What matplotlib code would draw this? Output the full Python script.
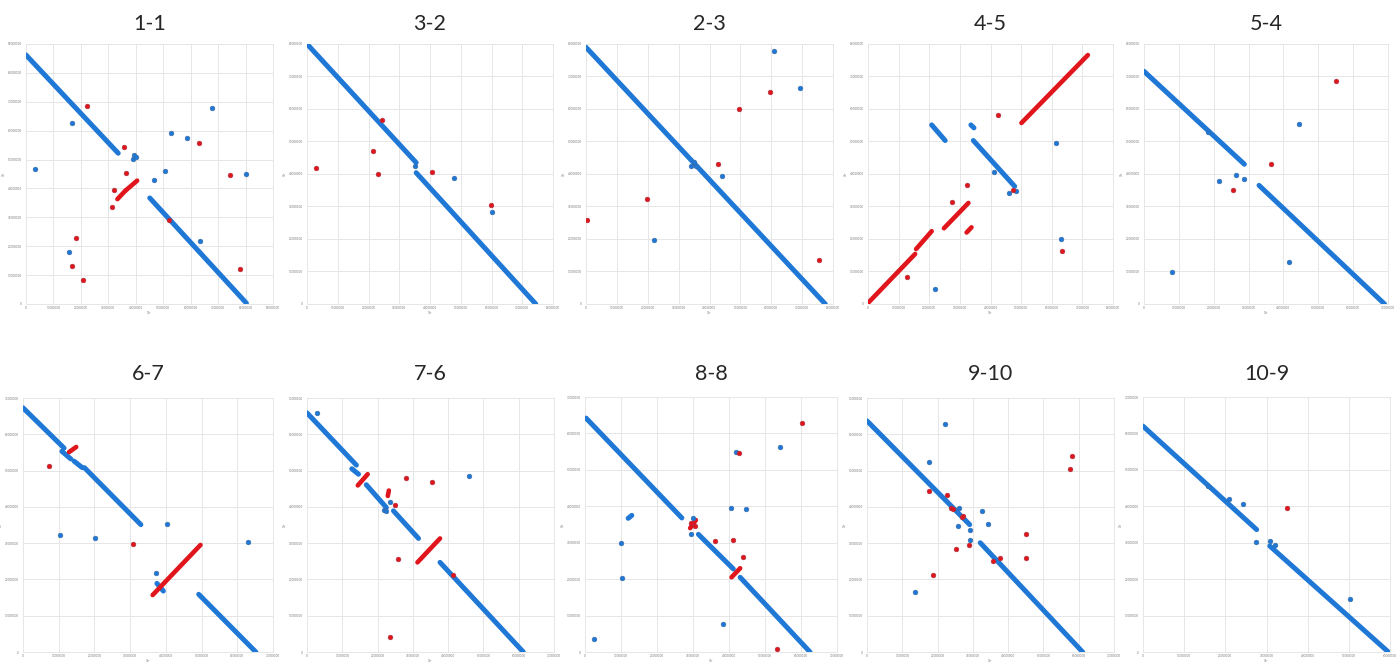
import matplotlib
matplotlib.use("Agg")
import matplotlib.pyplot as plt
from matplotlib.ticker import FixedLocator, FuncFormatter

# ---------------- data (units of 10 Mb) ----------------
titles = ["1-1", "3-2", "2-3", "4-5", "5-4", "6-7", "7-6", "8-8", "9-10", "10-9"]
x_max = [9, 8, 8, 8, 7, 7, 7, 7, 7, 6]
y_max = [9, 8, 8, 8, 8, 7, 7, 7, 7, 7]

# panel 1-1
blue_seg_1 = [(0.0, 8.62, 3.36, 5.22), (4.51, 3.67, 8.03, 0.03)]
red_seg_1 = [(3.33, 3.63, 3.62, 3.92), (3.62, 3.92, 4.05, 4.27)]
blue_x_1 = [1.66, 0.32, 3.9, 3.95, 4.0, 4.66, 5.08, 5.3, 5.85, 6.78, 8.03, 6.33, 1.58]
blue_y_1 = [6.26, 4.67, 5.02, 5.15, 5.08, 4.29, 4.61, 5.92, 5.73, 6.78, 4.51, 2.19, 1.79]
red_x_1 = [2.23, 3.57, 3.64, 3.22, 3.13, 6.3, 7.45, 1.82, 1.66, 2.09, 7.79, 5.2]
red_y_1 = [6.85, 5.44, 4.54, 3.94, 3.37, 5.59, 4.48, 2.27, 1.33, 0.83, 1.21, 2.92]

# panel 3-2
blue_seg_2 = [(0.0, 8.0, 3.55, 4.35), (3.55, 4.04, 7.44, 0.0)]
red_seg_2 = []
blue_x_2 = [3.51, 4.78, 6.03]
blue_y_2 = [4.25, 3.89, 2.83]
red_x_2 = [0.3, 2.16, 2.31, 2.45, 4.05, 5.98]
red_y_2 = [4.17, 4.71, 3.99, 5.66, 4.07, 3.04]

# panel 2-3
blue_seg_3 = [(0.0, 7.9, 7.75, 0.0)]
red_seg_3 = []
blue_x_3 = [3.4, 3.5, 3.55, 2.2, 4.42, 6.09, 6.92]
blue_y_3 = [4.25, 4.38, 4.25, 1.96, 3.94, 7.79, 6.66]
red_x_3 = [0.04, 1.96, 4.28, 4.95, 5.95, 7.55]
red_y_3 = [2.58, 3.22, 4.32, 6.0, 6.53, 1.34]

# panel 4-5
blue_seg_4 = [(2.08, 5.51, 2.52, 5.03), (3.36, 5.51, 3.46, 5.42), (3.44, 5.03, 4.79, 3.62)]
red_seg_4 = [(0.0, 0.03, 1.54, 1.54), (1.57, 1.69, 2.08, 2.24), (2.48, 2.33, 3.28, 3.11),
             (3.22, 2.2, 3.38, 2.36), (5.01, 5.57, 7.18, 7.66)]
blue_x_4 = [4.12, 4.6, 4.82, 6.15, 6.31, 2.19]
blue_y_4 = [4.05, 3.41, 3.47, 4.95, 2.0, 0.46]
red_x_4 = [4.26, 3.22, 2.75, 1.27, 6.33, 4.74]
red_y_4 = [5.83, 3.67, 3.13, 0.84, 1.62, 3.51]

# panel 5-4
blue_seg_5 = [(0.0, 7.16, 2.88, 4.3), (3.3, 3.65, 6.9, 0.0)]
red_seg_5 = []
blue_x_5 = [2.14, 2.64, 2.86, 4.45, 4.16, 0.81, 1.83]
blue_y_5 = [3.78, 3.97, 3.84, 5.55, 1.3, 0.98, 5.3]
red_x_5 = [2.54, 3.64, 5.5]
red_y_5 = [3.51, 4.3, 6.87]

# panel 6-7
blue_seg_6 = [(0.0, 6.73, 1.15, 5.62), (1.09, 5.53, 1.34, 5.32), (1.43, 5.26, 1.66, 5.08),
              (1.72, 5.08, 3.3, 3.51), (3.75, 1.89, 3.93, 1.68), (4.92, 1.59, 6.52, 0.0)]
red_seg_6 = [(1.29, 5.51, 1.49, 5.65), (3.63, 1.57, 4.97, 2.95)]
blue_x_6 = [1.04, 2.01, 4.02, 3.72, 6.3]
blue_y_6 = [3.23, 3.14, 3.52, 2.18, 3.04]
red_x_6 = [0.74, 3.07]
red_y_6 = [5.13, 2.97]

# panel 7-6
blue_seg_7 = [(0.0, 6.59, 1.4, 5.15), (1.27, 5.05, 1.46, 4.9), (1.68, 4.61, 2.25, 3.98),
              (2.45, 3.89, 3.16, 3.13), (3.77, 2.47, 6.13, 0.0)]
red_seg_7 = [(1.44, 4.59, 1.72, 4.9), (3.13, 2.47, 3.77, 3.13), (2.29, 4.3, 2.32, 4.45)]
blue_x_7 = [0.28, 4.6, 2.18, 2.24, 2.34]
blue_y_7 = [6.58, 4.84, 3.9, 3.88, 4.14]
red_x_7 = [2.81, 3.54, 2.57, 4.13, 2.36, 2.5]
red_y_7 = [4.79, 4.68, 2.57, 2.12, 0.41, 4.05]

# panel 8-8
blue_seg_8 = [(0.03, 6.42, 2.69, 3.68), (3.15, 3.23, 4.12, 2.28), (4.31, 2.05, 6.25, 0.0),
              (1.2, 3.67, 1.3, 3.75)]
red_seg_8 = [(2.92, 3.4, 3.08, 3.62), (4.07, 2.05, 4.31, 2.3)]
blue_x_8 = [0.99, 1.02, 0.25, 3.82, 4.05, 4.46, 5.42, 4.19, 2.99, 2.94]
blue_y_8 = [2.98, 2.04, 0.36, 0.76, 3.95, 3.93, 5.64, 5.5, 3.69, 3.24]
red_x_8 = [4.28, 6.04, 3.62, 4.12, 4.4, 5.34, 2.95, 3.05]
red_y_8 = [5.45, 6.29, 3.05, 3.07, 2.62, 0.09, 3.55, 3.45]

# panel 9-10
blue_seg_9 = [(0.0, 6.37, 2.91, 3.51), (3.21, 3.01, 6.11, 0.0)]
red_seg_9 = []
blue_x_9 = [2.22, 1.77, 2.62, 2.59, 2.91, 2.91, 3.25, 3.44, 1.35]
blue_y_9 = [6.28, 5.24, 3.98, 3.46, 3.35, 3.08, 3.89, 3.53, 1.64]
red_x_9 = [1.75, 2.28, 2.39, 2.45, 2.69, 2.72, 2.52, 2.88, 3.58, 3.77, 4.5, 4.5, 1.86, 5.74, 5.8]
red_y_9 = [4.45, 4.32, 3.96, 3.93, 3.71, 3.74, 2.83, 2.96, 2.51, 2.59, 3.26, 2.59, 2.11, 5.04, 5.4]

# panel 10-9
blue_seg_10 = [(0.0, 6.2, 2.76, 3.36), (3.08, 2.91, 5.96, 0.0)]
red_seg_10 = []
blue_x_10 = [1.58, 2.09, 2.43, 2.74, 3.08, 3.2, 5.03]
blue_y_10 = [4.57, 4.21, 4.06, 3.03, 3.04, 2.93, 1.45]
red_x_10 = [3.5]
red_y_10 = [3.96]

blue_segs = [blue_seg_1, blue_seg_2, blue_seg_3, blue_seg_4, blue_seg_5,
             blue_seg_6, blue_seg_7, blue_seg_8, blue_seg_9, blue_seg_10]
red_segs = [red_seg_1, red_seg_2, red_seg_3, red_seg_4, red_seg_5,
            red_seg_6, red_seg_7, red_seg_8, red_seg_9, red_seg_10]
blue_xs = [blue_x_1, blue_x_2, blue_x_3, blue_x_4, blue_x_5, blue_x_6, blue_x_7, blue_x_8, blue_x_9, blue_x_10]
blue_ys = [blue_y_1, blue_y_2, blue_y_3, blue_y_4, blue_y_5, blue_y_6, blue_y_7, blue_y_8, blue_y_9, blue_y_10]
red_xs = [red_x_1, red_x_2, red_x_3, red_x_4, red_x_5, red_x_6, red_x_7, red_x_8, red_x_9, red_x_10]
red_ys = [red_y_1, red_y_2, red_y_3, red_y_4, red_y_5, red_y_6, red_y_7, red_y_8, red_y_9, red_y_10]

# ---------------- layout (pixels) ----------------
W, H = 1400, 662
boxes = [(26, 44, 273, 304), (307, 44, 553, 304), (586, 44, 833, 304), (868, 44, 1113, 304), (1144, 44, 1388, 304),
         (23, 398, 273, 652), (307, 398, 554, 652), (585, 397, 837, 652), (867, 398, 1114, 652), (1143, 397, 1390, 652)]
title_y = [24, 374]

BLUE = "#1f78d6"
RED = "#e0161c"
GRID = "#e6e6e6"

plt.rcParams['font.family'] = ['Lato', 'DejaVu Sans']
fig = plt.figure(figsize=(W / 100, H / 100), dpi=100)
fig.patch.set_facecolor("white")

fmt = FuncFormatter(lambda v, p: f"{int(round(v * 10000000))}")

for i in range(10):
    x0, y0, x1, y1 = boxes[i]
    ax = fig.add_axes([x0 / W, 1 - y1 / H, (x1 - x0) / W, (y1 - y0) / H])
    ax.set_xlim(0, x_max[i])
    ax.set_ylim(0, y_max[i])
    ax.xaxis.set_major_locator(FixedLocator(range(0, x_max[i] + 1)))
    ax.yaxis.set_major_locator(FixedLocator(range(0, y_max[i] + 1)))
    ax.xaxis.set_major_formatter(fmt)
    ax.yaxis.set_major_formatter(fmt)
    ax.tick_params(axis="y", length=0, labelsize=2.2, labelcolor="#777777", pad=3)
    ax.tick_params(axis="x", length=0, labelsize=2.2, labelcolor="#777777", pad=1.5)
    ax.grid(True, color=GRID, linewidth=0.7)
    ax.set_axisbelow(True)
    for s in ax.spines.values():
        s.set_color(GRID)
        s.set_linewidth(0.7)
    ax.set_xlabel("Chr", fontsize=2, color="#888888", labelpad=0.5)
    ax.set_ylabel("Chr", fontsize=2, color="#888888", labelpad=1)

    for (a, b, c, d) in blue_segs[i]:
        ax.plot([a, c], [b, d], color=BLUE, lw=3.6, solid_capstyle="round", zorder=3)
    for (a, b, c, d) in red_segs[i]:
        ax.plot([a, c], [b, d], color=RED, lw=3.3, solid_capstyle="round", zorder=4)
    ax.plot(blue_xs[i], blue_ys[i], "o", color=BLUE, ms=3.4, mec="#3a6aa0", mew=0.4, zorder=5)
    ax.plot(red_xs[i], red_ys[i], "o", color=RED, ms=3.4, mec="#a83040", mew=0.4, zorder=5)

    cx = (x0 + x1) / 2
    ty = title_y[0] if i < 5 else title_y[1]
    fig.text(cx / W, 1 - ty / H, titles[i], ha="center", va="center", fontsize=15.5, color="#262626")

fig.savefig("out.png", dpi=100, facecolor="white")
